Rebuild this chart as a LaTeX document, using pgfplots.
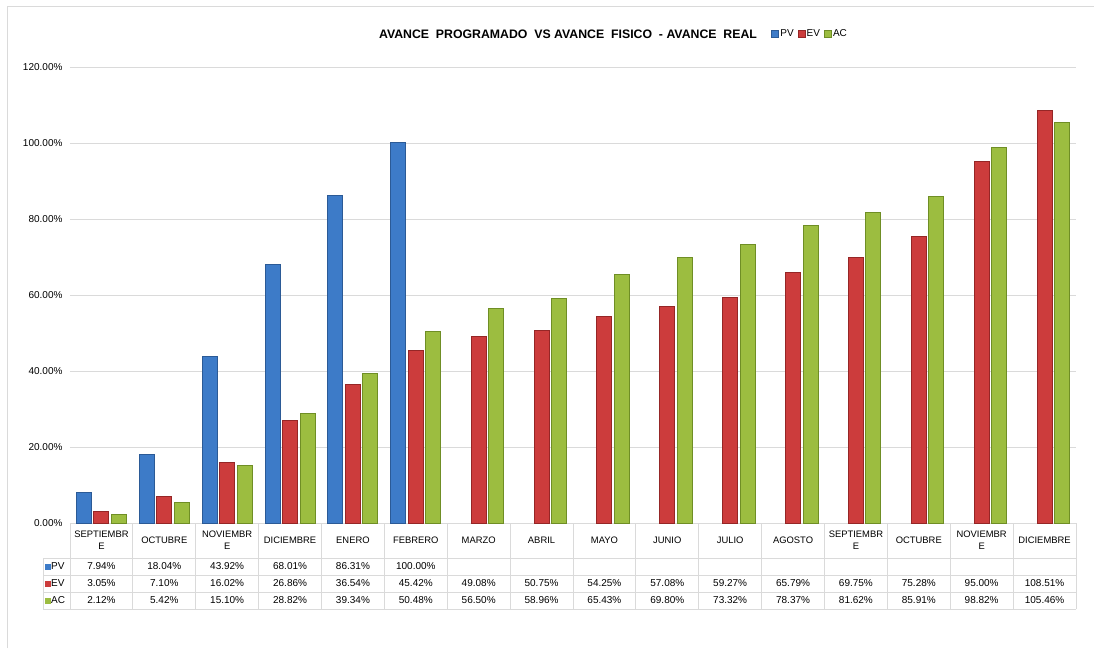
\documentclass[border=0pt]{standalone}
\usepackage{pgfplots}
\pgfplotsset{compat=1.18}
\usepackage{pgfplotstable}
\usepackage{fontspec}
\setmainfont{Liberation Sans}

\definecolor{pvd}{HTML}{2B5A96}
\definecolor{pvm}{HTML}{3D7BC8}
\definecolor{evd}{HTML}{952626}
\definecolor{evm}{HTML}{CC3C3C}
\definecolor{acd}{HTML}{6F8E25}
\definecolor{acm}{HTML}{9CBD40}
\definecolor{gridc}{HTML}{DADADA}

\pgfplotstableread{
x PV EV AC
0 7.94 3.05 2.12
1 18.04 7.10 5.42
2 43.92 16.02 15.10
3 68.01 26.86 28.82
4 86.31 36.54 39.34
5 100.00 45.42 50.48
6 nan 49.08 56.50
7 nan 50.75 58.96
8 nan 54.25 65.43
9 nan 57.08 69.80
10 nan 59.27 73.32
11 nan 65.79 78.37
12 nan 69.75 81.62
13 nan 75.28 85.91
14 nan 95.00 98.82
15 nan 108.51 105.46
}\datatable

\begin{document}
\begin{tikzpicture}[x=1pt,y=1pt]
\path[use as bounding box, fill=white] (0,0) rectangle (1094,648);
\draw[gridc] (7,0) -- (7,642) -- (1094,642);

\node[font=\bfseries\fontsize{12.3}{14}\selectfont] at (568,614) {AVANCE\ \ PROGRAMADO\ \ VS AVANCE\ \ FISICO\ \ - AVANCE\ \ REAL};

\begin{axis}[
  at={(70pt,125pt)}, anchor=south west,
  scale only axis, width=1006pt, height=456pt,
  xmin=-0.5, xmax=15.5, ymin=0, ymax=120,
  ybar=2.5pt, bar width=15pt,
  axis line style={draw=none},
  major tick length=0pt,
  /pgf/number format/assume math mode=true,
  ytick={0,20,...,120},
  yticklabel={\pgfmathprintnumber[fixed,fixed zerofill,precision=2]{\tick}\%},
  yticklabel style={anchor=east, xshift=-4pt, font=\fontsize{10}{12}\selectfont},
  ymajorgrids, grid style={draw=gridc, line width=0.9pt},
  xtick={0,...,15},
  xticklabels={{SEPTIEMBR\\E},OCTUBRE,{NOVIEMBR\\E},DICIEMBRE,ENERO,FEBRERO,MARZO,ABRIL,MAYO,JUNIO,JULIO,AGOSTO,{SEPTIEMBR\\E},OCTUBRE,{NOVIEMBR\\E},DICIEMBRE},
  xticklabel style={align=center, anchor=center, yshift=-17pt, font=\fontsize{9.4}{11.5}\selectfont},
  legend style={at={(0.697,1.072)}, anchor=west, draw=none, fill=none,
    font=\fontsize{10}{12}\selectfont, inner sep=0pt,
    nodes={inner sep=1pt}},
  legend columns=3,
  legend image code/.code={\path[#1] (0pt,-3.5pt) rectangle (7pt,3.5pt);},
  /tikz/every even column/.append style={column sep=3pt},
]
\addplot[fill=pvm, draw=pvd, line width=1pt] table[x=x, y=PV] {\datatable};
\addplot[fill=evm, draw=evd, line width=1pt] table[x=x, y=EV] {\datatable};
\addplot[fill=acm, draw=acd, line width=1pt] table[x=x, y=AC] {\datatable};
\legend{PV,EV,AC}
\end{axis}

\begin{axis}[
  at={(70pt,39pt)}, anchor=south west,
  scale only axis, width=1006pt, height=86pt,
  xmin=-0.5, xmax=15.5, ymin=0, ymax=86,
  hide axis, clip=false,
  every node near coord/.append style={anchor=center, font=\fontsize{10}{12}\selectfont, inner sep=0pt},
  nodes near coords={\pgfmathprintnumber[fixed,fixed zerofill,precision=2,assume math mode=true]{\pgfplotspointmeta}\%},
  point meta=explicit,
]
\addplot[draw=none, mark=none] table[x=x, y expr=\thisrow{PV}*0+42.5, meta=PV] {\datatable};
\addplot[draw=none, mark=none] table[x=x, y expr=25.5, meta=EV] {\datatable};
\addplot[draw=none, mark=none] table[x=x, y expr=8.5, meta=AC] {\datatable};
\end{axis}

% table grid
\foreach \k in {0,...,16} {
  \draw[gridc, line width=0.8pt] ({70+\k*62.875},39) -- ({70+\k*62.875},125);
}
\foreach \yy in {39,56,73,90} {
  \draw[gridc, line width=0.8pt] (43,\yy) -- (1076,\yy);
}
\draw[gridc, line width=0.8pt] (43,39) -- (43,90);
\node[anchor=west, font=\fontsize{10}{12}\selectfont, inner sep=0pt] at (45,81.5) {\textcolor{pvm}{\rule{6pt}{6pt}}PV};
\node[anchor=west, font=\fontsize{10}{12}\selectfont, inner sep=0pt] at (45,64.5) {\textcolor{evm}{\rule{6pt}{6pt}}EV};
\node[anchor=west, font=\fontsize{10}{12}\selectfont, inner sep=0pt] at (45,47.5) {\textcolor{acm}{\rule{6pt}{6pt}}AC};
\end{tikzpicture}
\end{document}
